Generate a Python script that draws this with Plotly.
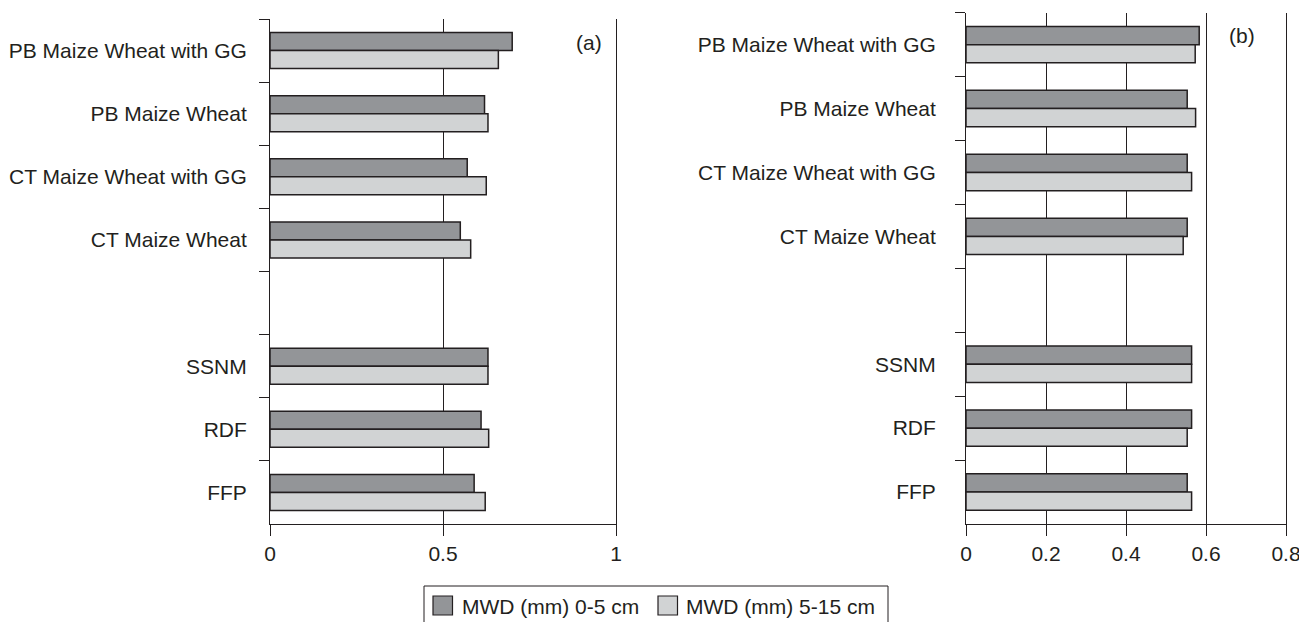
import plotly.graph_objects as go

# ---- data ----
categories = ["PB Maize Wheat with GG", "PB Maize Wheat", "CT Maize Wheat with GG",
              "CT Maize Wheat", " ", "SSNM", "RDF", "FFP"]
series_names = ["MWD (mm) 0-5 cm", "MWD (mm) 5-15 cm"]
a_0_5 = [0.70, 0.62, 0.57, 0.55, None, 0.63, 0.61, 0.59]
a_5_15 = [0.66, 0.63, 0.625, 0.58, None, 0.63, 0.632, 0.622]
b_0_5 = [0.583, 0.553, 0.553, 0.553, None, 0.564, 0.564, 0.553]
b_5_15 = [0.573, 0.574, 0.564, 0.543, None, 0.564, 0.553, 0.564]
a_ticks = [0, 0.5, 1]
b_ticks = [0, 0.2, 0.4, 0.6, 0.8]
panel_labels = ["(a)", "(b)"]

# page body has an 8px margin; the figure is sized to fit the window
OFF = 8
W, H = 1307 - OFF, 622 - OFF
INK = "#231f20"
DARK = "#939598"
LIGHT = "#d1d3d4"
FONT = "Liberation Sans, Arial, Helvetica, sans-serif"
FS = 21

def px(x):
    return (x - OFF) / W

def py(y):
    return 1 - (y - OFF) / H

fig = go.Figure()
for name, vals, col in [(series_names[0], a_0_5, DARK), (series_names[1], a_5_15, LIGHT)]:
    fig.add_trace(go.Bar(y=categories, x=vals, name=name, orientation="h",
                         marker=dict(color=col, line=dict(color=INK, width=1.5)),
                         xaxis="x", yaxis="y", showlegend=False))
for name, vals, col in [(series_names[0], b_0_5, DARK), (series_names[1], b_5_15, LIGHT)]:
    fig.add_trace(go.Bar(y=categories, x=vals, name=name, orientation="h",
                         marker=dict(color=col, line=dict(color=INK, width=1.5)),
                         xaxis="x2", yaxis="y2", showlegend=False))

common_x = dict(showline=True, linecolor=INK, linewidth=1, ticks="outside", ticklen=11,
                tickwidth=1, tickcolor=INK, showgrid=True, gridcolor=INK, gridwidth=1,
                zeroline=False, automargin=False, mirror=False,
                tickfont=dict(family=FONT, size=FS, color=INK))
common_y = dict(type="category", categoryorder="array", categoryarray=categories,
                range=[len(categories) - 0.5, -0.5], showline=True, mirror=True,
                linecolor=INK, linewidth=1, ticks="outside", tickson="boundaries",
                ticklen=10, tickwidth=1, tickcolor=INK, showgrid=False,
                automargin=False, tickfont=dict(family=FONT, size=FS, color=INK))

fig.update_layout(
    width=W, height=H, margin=dict(l=0, r=0, t=0, b=0),
    paper_bgcolor="white", plot_bgcolor="white",
    barmode="group", bargap=0.43, bargroupgap=0,
    font=dict(family=FONT, size=FS, color=INK),
    xaxis=dict(domain=[px(270), px(616)], range=[0, 1], tickvals=a_ticks,
               ticktext=[f"{v:g}" for v in a_ticks], anchor="y", **common_x),
    yaxis=dict(domain=[py(524), py(19)], anchor="x", ticklabelstandoff=18, **common_y),
    xaxis2=dict(domain=[px(966), px(1286)], range=[0, 0.8], tickvals=b_ticks,
                ticktext=[f"{v:g}" for v in b_ticks], anchor="y2", **common_x),
    yaxis2=dict(domain=[py(524), py(12.7)], anchor="x2", ticklabelstandoff=25, **common_y),
    showlegend=False,
)

# panel labels
fig.add_annotation(x=px(589), y=py(29), xref="paper", yref="paper", text=panel_labels[0],
                   showarrow=False, font=dict(family=FONT, size=FS, color=INK))
fig.add_annotation(x=px(1257), y=py(22), xref="paper", yref="paper", text=panel_labels[1],
                   showarrow=False, font=dict(family=FONT, size=FS, color=INK))

# legend box (drawn manually to match swatch size)
fig.add_shape(type="rect", xref="paper", yref="paper", x0=px(424), x1=px(888),
              y0=py(640), y1=py(586), line=dict(color=INK, width=1), fillcolor="white")
for sx, tx, col, name in [(433, 461, DARK, series_names[0]), (658, 685, LIGHT, series_names[1])]:
    fig.add_shape(type="rect", xref="paper", yref="paper", x0=px(sx), x1=px(sx + 19.5),
                  y0=py(615), y1=py(596), line=dict(color=INK, width=1.2), fillcolor=col)
    fig.add_annotation(x=px(tx), y=py(606), xref="paper", yref="paper", text=name,
                       showarrow=False, xanchor="left", yanchor="middle", borderpad=0,
                       font=dict(family=FONT, size=FS, color=INK))

fig.write_html("out.html")
